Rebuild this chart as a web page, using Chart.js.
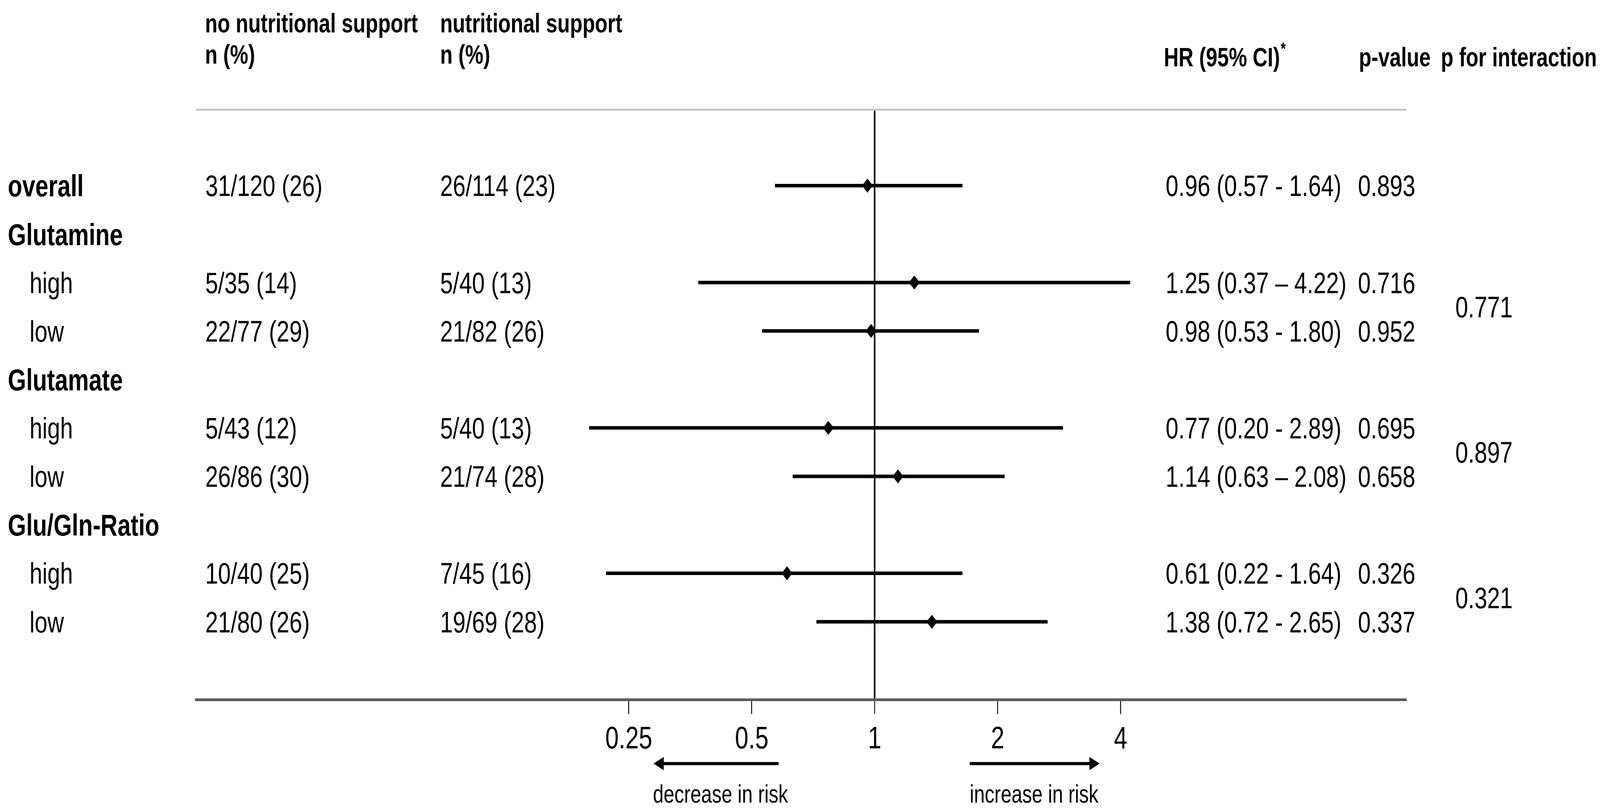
<!DOCTYPE html>
<html>
<head>
<meta charset="utf-8">
<script src="https://cdn.jsdelivr.net/npm/chart.js@4.4.1/dist/chart.umd.min.js"></script>
<style>
  html, body { margin: 0; padding: 0; background: #fff; overflow: hidden; }
</style>
</head>
<body>
<canvas id="forest" width="5308" height="2080" style="display:block;width:100vw;height:100vh;"></canvas>
<script>
// rows from top to bottom
const rowLabels = ["overall", "Glutamine", "high", "low", "Glutamate", "high", "low", "Glu/Gln-Ratio", "high", "low"];
const rowIsGroup = [true, true, false, false, true, false, false, true, false, false];
const noSupport = ["31/120 (26)", "", "5/35 (14)", "22/77 (29)", "", "5/43 (12)", "26/86 (30)", "", "10/40 (25)", "21/80 (26)"];
const withSupport = ["26/114 (23)", "", "5/40 (13)", "21/82 (26)", "", "5/40 (13)", "21/74 (28)", "", "7/45 (16)", "19/69 (28)"];
const hr = [0.96, null, 1.25, 0.98, null, 0.77, 1.14, null, 0.61, 1.38];
const ciLow = [0.57, null, 0.37, 0.53, null, 0.20, 0.63, null, 0.22, 0.72];
const ciHigh = [1.64, null, 4.22, 1.80, null, 2.89, 2.08, null, 1.64, 2.65];
const ciDash = ["-", "", "\u2013", "-", "", "-", "\u2013", "", "-", "-"];
const pValues = ["0.893", "", "0.716", "0.952", "", "0.695", "0.658", "", "0.326", "0.337"];
const interactionRow = [2.5, 5.5, 8.5];
const interactionP = ["0.771", "0.897", "0.321"];
const xTicks = [0.25, 0.5, 1, 2, 4];

const FONT = "'Liberation Sans', Arial, sans-serif";

const ciSets = [];
const points = [];
hr.forEach((v, i) => {
    if (v === null) return;
    ciSets.push({
        type: "scatter",
        data: [{ x: ciLow[i], y: i }, { x: ciHigh[i], y: i }],
        showLine: true,
        borderColor: "#000",
        borderWidth: 9,
        borderCapStyle: "butt",
        pointRadius: 0,
        order: 2
    });
    points.push({ x: v, y: i });
});

const tablePlugin = {
    id: "tableText",
    afterDraw(chart) {
        const ctx = chart.ctx;
        const area = chart.chartArea;
        const y = chart.scales.y;
        ctx.save();

        // top rule
        ctx.strokeStyle = "#c4c4c4";
        ctx.lineWidth = 5;
        ctx.beginPath();
        ctx.moveTo(area.left, area.top);
        ctx.lineTo(area.right, area.top);
        ctx.stroke();

        ctx.fillStyle = "#000";
        ctx.textBaseline = "alphabetic";
        ctx.textAlign = "left";

        // headers
        ctx.font = "bold 68px " + FONT;
        ctx.fillText("no nutritional support", 680, 83);
        ctx.fillText("n (%)", 680, 163);
        ctx.fillText("nutritional support", 1460, 83);
        ctx.fillText("n (%)", 1460, 163);
        const hrHead = "HR (95% CI)";
        ctx.fillText(hrHead, 3861, 170);
        const w = ctx.measureText(hrHead).width;
        ctx.font = "bold 44px " + FONT;
        ctx.fillText("*", 3861 + w + 2, 140);
        ctx.font = "bold 68px " + FONT;
        ctx.fillText("p-value", 4508, 170);
        ctx.fillText("p for interaction", 4780, 170);

        // rows (baseline sits ~27px below the row centre)
        rowLabels.forEach((lab, i) => {
            const py = y.getPixelForValue(i) + 27;
            if (rowIsGroup[i]) {
                ctx.font = "bold 78px " + FONT;
                ctx.fillText(lab, 26, py + 1);
            } else {
                ctx.font = "76px " + FONT;
                ctx.fillText(lab, 98, py);
            }
            ctx.font = "76px " + FONT;
            if (noSupport[i]) ctx.fillText(noSupport[i], 681, py);
            if (withSupport[i]) ctx.fillText(withSupport[i], 1460, py);
            if (hr[i] !== null) {
                const txt = hr[i].toFixed(2) + " (" + ciLow[i].toFixed(2) + " " + ciDash[i] + " " + ciHigh[i].toFixed(2) + ")";
                ctx.fillText(txt, 3867, py);
                ctx.fillText(pValues[i], 4505, py);
            }
        });
        interactionRow.forEach((r, k) => {
            ctx.fillText(interactionP[k], 4828, y.getPixelForValue(r) + 27);
        });

        // direction arrows
        const ay = 1956;
        ctx.strokeStyle = "#000";
        ctx.lineWidth = 8;
        ctx.beginPath();
        ctx.moveTo(2195, ay); ctx.lineTo(2583, ay);
        ctx.moveTo(3217, ay); ctx.lineTo(3620, ay);
        ctx.stroke();
        ctx.beginPath();
        ctx.moveTo(2168, ay); ctx.lineTo(2202, ay - 17); ctx.lineTo(2202, ay + 17); ctx.closePath();
        ctx.moveTo(3648, ay); ctx.lineTo(3614, ay - 17); ctx.lineTo(3614, ay + 17); ctx.closePath();
        ctx.fill();

        ctx.font = "64px " + FONT;
        ctx.fillText("decrease in risk", 2166, 2056);
        ctx.fillText("increase in risk", 3217, 2056);

        ctx.restore();
    }
};

new Chart(document.getElementById("forest"), {
    data: {
        datasets: [
            ...ciSets,
            {
                type: "scatter",
                data: points,
                pointStyle: "rectRot",
                pointRadius: 18,
                pointBackgroundColor: "#000",
                pointBorderWidth: 0,
                order: 1
            }
        ]
    },
    options: {
        responsive: false,
        devicePixelRatio: 1,
        animation: false,
        events: [],
        layout: { padding: { left: 650, right: 643, top: 281, bottom: 119 } },
        plugins: { legend: { display: false }, tooltip: { enabled: false } },
        scales: {
            x: {
                type: "logarithmic",
                min: 0.0218,
                max: 20,
                afterBuildTicks: scale => { scale.ticks = xTicks.map(v => ({ value: v })); },
                ticks: {
                    color: "#000",
                    font: { family: FONT, size: 80 },
                    padding: 18,
                    maxRotation: 0,
                    autoSkip: false,
                    callback: v => String(v)
                },
                grid: {
                    drawOnChartArea: true,
                    color: c => (c.tick && c.tick.value === 1) ? "#000" : "rgba(0,0,0,0)",
                    lineWidth: c => (c.tick && c.tick.value === 1) ? 5 : 3,
                    tickColor: "#000",
                    tickWidth: 3,
                    tickLength: 37
                },
                border: { display: true, color: "#5c5c5c", width: 7 }
            },
            y: {
                type: "linear",
                min: -1.566,
                max: 10.606,
                reverse: true,
                display: false
            }
        }
    },
    plugins: [tablePlugin]
});
</script>
</body>
</html>
